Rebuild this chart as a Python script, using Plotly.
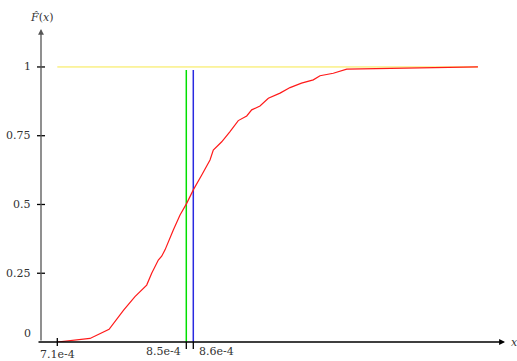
import plotly.graph_objects as go

# ---- data (x values ~1e-4) ----
ecdf_x = [7.10, 7.24, 7.46, 7.67, 7.83, 7.955, 8.084, 8.139, 8.212, 8.249, 8.286, 8.377,
          8.451, 8.524, 8.597, 8.690, 8.745, 8.781, 8.817, 8.910, 9.001, 9.092, 9.185,
          9.240, 9.331, 9.423, 9.552, 9.662, 9.788, 9.918, 9.992, 10.138, 10.286,
          10.542, 10.652, 11.73]
ecdf_x = [v * 1e-4 for v in ecdf_x]
ecdf_y = [0.0, 0.004, 0.013, 0.046, 0.116, 0.165, 0.207, 0.250, 0.298, 0.312, 0.335, 0.407,
          0.462, 0.504, 0.553, 0.607, 0.640, 0.662, 0.698, 0.728, 0.765, 0.805, 0.822,
          0.844, 0.858, 0.886, 0.905, 0.925, 0.941, 0.953, 0.968, 0.977, 0.992,
          0.993, 0.994, 1.0]
mean_x = 8.52e-4      # green line
median_x = 8.597e-4   # blue line
line_top = 0.989
min_x = 7.10e-4
max_x = 11.73e-4
y_tick_vals = [0.25, 0.5, 0.75, 1]
y_tick_text = ["0.25", "0.5", "0.75", "1"]
x_tick_labels = ["7.1e-4", "8.5e-4", "8.6e-4"]

x_range = [6.9206e-4, 12.028e-4]
y_range = [0, 1.138]

FONT = "DejaVu Serif"
TXT = "#333333"
FS = 11

fig = go.Figure()
fig.add_trace(go.Scatter(x=[min_x, max_x], y=[1, 1], mode="lines",
                         line=dict(color="#f7e84a", width=1), hoverinfo="skip"))
fig.add_trace(go.Scatter(x=[mean_x, mean_x], y=[0, line_top], mode="lines",
                         line=dict(color="#00e000", width=1.5), hoverinfo="skip"))
fig.add_trace(go.Scatter(x=[median_x, median_x], y=[0, line_top], mode="lines",
                         line=dict(color="#2a2ae0", width=1.5), hoverinfo="skip"))
fig.add_trace(go.Scatter(x=ecdf_x, y=ecdf_y, mode="lines",
                         line=dict(color="#ff1a1a", width=1.2), hoverinfo="skip"))

shapes = []
for v in y_tick_vals:
    shapes.append(dict(type="line", xref="paper", yref="y", x0=-4/464, x1=4/464, y0=v, y1=v,
                       line=dict(color="black", width=1.3)))
shapes.append(dict(type="line", xref="x", yref="paper", x0=min_x, x1=min_x, y0=-4/313, y1=4/313,
                   line=dict(color="black", width=1.3)))
for v in [mean_x, median_x]:
    shapes.append(dict(type="line", xref="x", yref="paper", x0=v, x1=v, y0=-7/313, y1=0,
                       line=dict(color="black", width=1.3)))

annotations = []
annotations.append(dict(xref="paper", yref="paper", x=0, y=1, ax=0, ay=313,
                        text="", showarrow=True, arrowhead=2, arrowsize=0.9, arrowwidth=1.3,
                        arrowcolor="#555555"))
annotations.append(dict(xref="paper", yref="paper", x=1, y=0, ax=-468, ay=0,
                        text="", showarrow=True, arrowhead=2, arrowsize=0.9, arrowwidth=1.3,
                        arrowcolor="black"))
for v, t in zip(y_tick_vals, y_tick_text):
    annotations.append(dict(xref="paper", yref="y", x=-8/464, y=v, text=t, showarrow=False,
                            xanchor="right", yanchor="middle",
                            font=dict(family=FONT, size=FS, color=TXT)))
annotations.append(dict(xref="paper", yref="y", x=-8/464, y=0, yshift=9, text="0", showarrow=False,
                        xanchor="right", yanchor="middle", font=dict(family=FONT, size=FS, color=TXT)))
annotations.append(dict(xref="x", yref="paper", x=min_x, y=0, yshift=-12, text=x_tick_labels[0],
                        showarrow=False, xanchor="center", yanchor="middle",
                        font=dict(family=FONT, size=FS, color=TXT)))
annotations.append(dict(xref="x", yref="paper", x=mean_x, y=0, yshift=-9, xshift=-3,
                        text=x_tick_labels[1], showarrow=False, xanchor="right", yanchor="middle",
                        font=dict(family=FONT, size=FS, color=TXT)))
annotations.append(dict(xref="x", yref="paper", x=median_x, y=0, yshift=-9, xshift=4,
                        text=x_tick_labels[2], showarrow=False, xanchor="left", yanchor="middle",
                        font=dict(family=FONT, size=FS, color=TXT)))
annotations.append(dict(xref="paper", yref="paper", x=0, y=1, yshift=12, text="<i>F\u0302</i>(<i>x</i>)",
                        showarrow=False, xanchor="center", yanchor="middle",
                        font=dict(family=FONT, size=FS, color=TXT)))
annotations.append(dict(xref="paper", yref="paper", x=1, y=0, xshift=4, text="<i>x</i>",
                        showarrow=False, xanchor="left", yanchor="middle",
                        font=dict(family=FONT, size=FS, color=TXT)))

fig.update_layout(
    width=517, height=361,
    margin=dict(l=41, r=12, t=29, b=19, pad=0),
    paper_bgcolor="white", plot_bgcolor="white",
    showlegend=False,
    xaxis=dict(range=x_range, showgrid=False, zeroline=False, showline=False,
               showticklabels=False, ticks=""),
    yaxis=dict(range=y_range, showgrid=False, zeroline=False, showline=False,
               showticklabels=False, ticks=""),
    shapes=shapes, annotations=annotations,
)

fig.write_html("out.html", config={"displayModeBar": False},
               post_script="document.body.style.margin='0';")
